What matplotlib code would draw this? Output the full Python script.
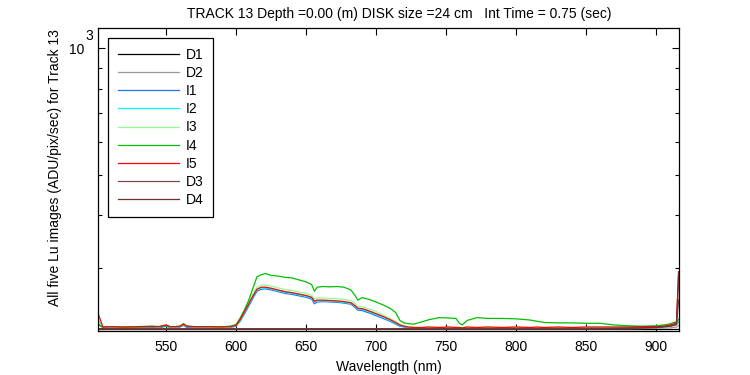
import matplotlib
matplotlib.use("Agg")
import matplotlib.pyplot as plt
from matplotlib.ticker import FixedLocator, NullFormatter, FixedFormatter

plt.rcParams['font.family'] = ['Liberation Sans', 'DejaVu Sans']
plt.rcParams['mathtext.default'] = 'regular'

# ---------------- data ----------------
wavelength = [501.5, 505, 510, 520, 530, 540, 545, 550, 553, 557, 560, 562.5, 565, 570, 580,
              590, 596, 600, 603, 606, 609, 612, 615, 618, 621, 625, 630, 635, 640, 645,
              650, 654, 656, 658, 662, 667, 672, 677, 682, 685, 687, 690, 695, 700, 705,
              710, 714, 717, 720, 723, 727, 733, 738, 745, 752, 757, 759.5, 761.5, 765, 772,
              780, 790, 800, 810, 815, 820, 830, 840, 850, 860, 870, 880, 890, 900, 905,
              909, 912, 914.5, 916]

I1 = [221, 216, 216.5, 216, 216.5, 216.5, 216, 218, 216.5, 216, 217, 219, 216.5, 216.5, 216,
      216, 216.5, 218, 224, 233, 243, 254, 264, 267, 267.5, 266, 263.5, 261, 259.5, 257.5,
      255.5, 253, 246.5, 249, 249.5, 249, 248.5, 247.5, 246, 241.5, 238, 237.5, 234.5, 231, 227.5,
      224, 220.5, 218, 217, 216, 215.5, 215.5, 216, 215.5, 216, 215.5, 215.5, 215, 216, 215.5,
      216, 215.5, 216, 215.5, 216, 215.5, 216, 215.5, 216, 216, 216, 216.5, 216.5, 217, 217.5,
      218.5, 219.5, 221, 223]

I2 = [226, 216.5, 217, 216.5, 217, 217.5, 217, 219, 217, 217, 217.5, 220, 217.5, 217, 217,
      216.5, 217, 218.5, 225, 235, 245, 256, 266, 269, 269, 267.5, 265, 262.5, 261, 259,
      257, 254.5, 249, 250.5, 250.5, 250, 249.5, 248.5, 247, 243, 239.5, 239, 236, 232.5, 229,
      225, 221.5, 219, 217.5, 216.5, 216, 216, 216.5, 216, 216.5, 216, 216, 215.5, 216.5, 216,
      216.5, 216, 216.5, 216, 216.5, 216, 216.5, 216, 216.5, 216.5, 216.5, 217, 217, 217.5, 218,
      219, 220, 221.5, 224]

I3 = [224, 217, 217.5, 217, 217.5, 218, 217.5, 219.5, 217.5, 217.5, 218, 220.5, 218, 217.5, 217.5,
      217, 217.5, 219.5, 227, 238, 248.5, 260, 270, 273, 273.5, 271.5, 269, 266.5, 265, 263,
      261, 258.5, 252.5, 254.5, 254.5, 254, 253.5, 252.5, 251, 247, 243, 242.5, 239.5, 236, 232,
      227.5, 223.5, 220.5, 218.5, 217.5, 217, 216.5, 217, 216.5, 217, 216.5, 216.5, 216.5, 217, 216.5,
      217, 216.5, 217, 216.5, 217, 216.5, 217, 216.5, 217, 217, 217, 217.5, 217.5, 218, 218.5,
      219.5, 220.5, 222, 224]

I4 = [220, 217, 217.5, 217, 217, 217.5, 217.5, 218.5, 217.5, 217.5, 218, 221, 218, 217.5, 217.5,
      217.5, 218, 220, 228, 238, 251, 268, 286, 289, 291, 288, 287, 285, 284, 281,
      278, 274, 264, 270, 271, 270.5, 271, 270, 266, 258, 251.5, 255, 252.5, 249, 245,
      240.5, 235, 225, 222, 221, 220.5, 223.5, 226, 228.5, 228, 227.5, 221.5, 219.5, 225, 228.5,
      227.5, 227.5, 227, 225.5, 224, 222.5, 222, 222, 221.5, 221.5, 219.5, 218.5, 218, 218.5, 219.5,
      220.5, 222, 223.5, 226]

I5 = [234, 217, 217.5, 217, 217.5, 218, 217.5, 219.5, 217.5, 217.5, 218, 220.5, 218, 217.5, 217.5,
      217, 217.5, 219, 226, 236, 246, 257, 267, 270, 270, 268.5, 266, 263.5, 262, 260,
      258, 255.5, 250, 251.5, 251.5, 251, 250.5, 249.5, 248, 244, 240.5, 240, 237, 233.5, 230,
      226, 222.5, 219.5, 218, 217, 216.5, 216.5, 217, 216.5, 217, 216.5, 216.5, 216, 217, 216.5,
      217, 216.5, 217, 216.5, 217, 216.5, 217, 216.5, 217, 217, 217, 217, 217.5, 217.5, 218,
      219, 220.5, 222, 294]

dark_wavelength = [501.5, 530, 560, 600, 650, 700, 750, 800, 850, 880, 900, 910, 914.5, 916]
D1 = [214.5, 214.5, 214.5, 214.5, 214.5, 214.5, 214.5, 214.5, 214.5, 214.5, 214.5, 214.5, 214.5, 214.5]
D2 = [215, 215, 215, 215, 215, 215, 215, 215, 215, 215, 215.5, 216, 217, 219]
D3 = [215, 215, 215, 215, 215, 215, 215, 215, 215, 215.5, 216.5, 218, 220, 252]
D4 = [215, 214.8, 214.8, 214.8, 214.8, 214.8, 214.8, 214.8, 214.8, 215.5, 216.5, 218, 220, 292]

labels = ['D1', 'D2', 'I1', 'I2', 'I3', 'I4', 'I5', 'D3', 'D4']
colors = ['#000000', '#999999', '#1a78f0', '#00ffff', '#90ff90', '#00c000', '#ff0000', '#7a4848', '#703030']

title = 'TRACK 13 Depth =0.00 (m) DISK size =24 cm   Int Time = 0.75 (sec)'
xlabel = 'Wavelength (nm)'
ylabel = 'All five Lu images (ADU/pix/sec) for Track 13'
xticks = [550, 600, 650, 700, 750, 800, 850, 900]
yticks_major = [1000]
yticks_minor = [300, 400, 500, 600, 700, 800, 900]

# ---------------- plot ----------------
fig = plt.figure(figsize=(7.5, 3.75), dpi=100)
ax = fig.add_axes([98 / 750, (375 - 330.7) / 375, (679.3 - 98) / 750, (330.7 - 28) / 375])

series = [(dark_wavelength, D1), (dark_wavelength, D2), (wavelength, I1), (wavelength, I2),
          (wavelength, I3), (wavelength, I4), (wavelength, I5), (dark_wavelength, D3),
          (dark_wavelength, D4)]
for (xs, ys), lab, col in zip(series, labels, colors):
    ax.plot(xs, ys, color=col, lw=0.9, label=lab)

ax.set_yscale('log')
ax.set_xlim(501.5, 916.5)
ax.set_ylim(212.7, 1118)
ax.set_xticks(xticks)
ax.set_xticklabels([str(t) for t in xticks])
ax.yaxis.set_major_locator(FixedLocator(yticks_major))
# MATLAB-style "10" with a separate exponent "3"
ax.yaxis.set_major_formatter(FixedFormatter(['10']))
ax.yaxis.set_minor_locator(FixedLocator(yticks_minor))
ax.yaxis.set_minor_formatter(NullFormatter())
ax.xaxis.set_minor_locator(FixedLocator([]))

ax.tick_params(axis='both', which='both', direction='in', top=True, right=True, labelsize=10)
ax.tick_params(axis='both', which='major', length=5, width=0.8)
ax.tick_params(axis='y', which='minor', length=3, width=0.8)
ax.tick_params(axis='x', which='major', pad=7)
ax.tick_params(axis='y', which='major', pad=10)
for sp in ax.spines.values():
    sp.set_linewidth(0.9)

fig.text(85.5 / 750, 1 - 36 / 375, '3', fontsize=10, ha='left', va='center')

ax.set_xlabel(xlabel, fontsize=10, labelpad=4)
ax.set_ylabel(ylabel, fontsize=10)
ax.yaxis.set_label_coords(-0.062, 0.54)
ax.set_title(title, fontsize=10, x=0.518, pad=7)

leg = ax.legend(loc='upper left', bbox_to_anchor=(10 / 581, 1 - 10 / 302.7), borderaxespad=0,
                fontsize=10, frameon=True, fancybox=False, framealpha=1, edgecolor='black',
                handlelength=4.4, handletextpad=0.5, labelspacing=0.3, borderpad=0.7)
leg.get_frame().set_linewidth(0.9)

fig.savefig('out.png', dpi=100)
